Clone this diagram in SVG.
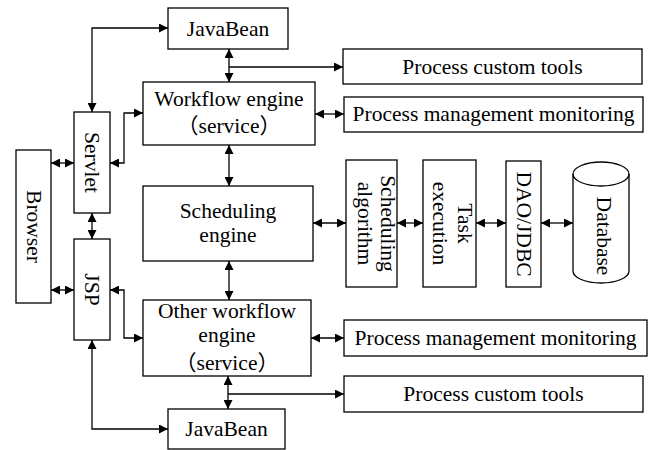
<svg xmlns="http://www.w3.org/2000/svg" width="651" height="450" viewBox="0 0 651 450">
<style>
.b{fill:#fff;stroke:#000;stroke-width:1.3}
.t{font-family:"Liberation Serif","Times New Roman",serif;font-size:21.5px;fill:#000;text-anchor:middle}
.c{fill:none;stroke:#000;stroke-width:1.3}
.d{marker-start:url(#ah);marker-end:url(#ah)}
.e{marker-end:url(#ah)}
.p{font-family:"Liberation Serif","Noto Sans CJK SC",serif}
</style>
<defs>
<marker id="ah" viewBox="0 0 10 10" refX="10" refY="5" markerWidth="10" markerHeight="9" markerUnits="userSpaceOnUse" orient="auto-start-reverse">
<path d="M0,0 L10,5 L0,10 z" fill="#000"/>
</marker>
</defs>
<rect width="651" height="450" fill="#fff"/>
<g id="connectors">
<path class="c d" d="M92,112 V28 H168"/>
<path class="c d" d="M229,49 V82"/>
<path class="c e" d="M229,67 H343"/>
<path class="c d" d="M110,163 H124 V113 H143"/>
<path class="c d" d="M315,114 H344"/>
<path class="c d" d="M51,163 H74"/>
<path class="c d" d="M92,213 V239"/>
<path class="c d" d="M51,290 H74"/>
<path class="c d" d="M229,145 V186"/>
<path class="c d" d="M229,261 V300"/>
<path class="c d" d="M313,223 H346"/>
<path class="c d" d="M397,223 H423"/>
<path class="c d" d="M476,223 H506"/>
<path class="c d" d="M541,223 H573"/>
<path class="c d" d="M110,290 H124 V338 H143"/>
<path class="c d" d="M311,338 H344"/>
<path class="c d" d="M228,376 V409"/>
<path class="c e" d="M228,394 H344"/>
<path class="c d" d="M92,340 V429 H168"/>
</g>
<g id="javabean-top"><rect class="b" x="168" y="8" width="120" height="41"/><text class="t" x="228" y="35.5">JavaBean</text></g>
<g id="workflow"><rect class="b" x="143" y="82" width="172" height="63"/><text class="t" x="229" y="106">Workflow engine</text><text class="t p" x="229" y="133">（service）</text></g>
<g id="pct-top"><rect class="b" x="343" y="49" width="299" height="35"/><text class="t" x="492.5" y="73.5">Process custom tools</text></g>
<g id="pmm-top"><rect class="b" x="344" y="97" width="299" height="35"/><text class="t" x="493.5" y="121">Process management monitoring</text></g>
<g id="servlet"><rect class="b" x="74" y="112" width="36" height="101"/><text class="t" transform="translate(85,162.5) rotate(90)">Servlet</text></g>
<g id="browser"><rect class="b" x="16" y="150" width="35" height="153"/><text class="t" transform="translate(26.5,226.5) rotate(90)">Browser</text></g>
<g id="jsp"><rect class="b" x="74" y="239" width="36" height="101"/><text class="t" transform="translate(85,289.5) rotate(90)">JSP</text></g>
<g id="scheduling-engine"><rect class="b" x="143" y="186" width="170" height="75"/><text class="t" x="228" y="218">Scheduling</text><text class="t" x="228" y="242">engine</text></g>
<g id="scheduling-algorithm"><rect class="b" x="346" y="160" width="51" height="127"/><text class="t" transform="translate(381,223.5) rotate(90)"><tspan x="0" y="0">Scheduling</tspan><tspan x="0" y="23.5">algorithm</tspan></text></g>
<g id="task-execution"><rect class="b" x="423" y="160" width="53" height="127"/><text class="t" transform="translate(458,223.5) rotate(90)"><tspan x="0" y="0">Task</tspan><tspan x="0" y="25">execution</tspan></text></g>
<g id="dao-jdbc"><rect class="b" x="506" y="161" width="35" height="126"/><text class="t" transform="translate(516.5,224) rotate(90)">DAO/JDBC</text></g>
<g id="database"><path class="b" d="M573,174 A28,12 0 0 1 629,174 V271 A28,12 0 0 1 573,271 Z"/><path class="c" d="M573,174 A28,12 0 0 0 629,174"/><text class="t" transform="translate(597,236) rotate(90)">Database</text></g>
<g id="other-workflow"><rect class="b" x="143" y="300" width="168" height="76"/><text class="t" x="227" y="318">Other workflow</text><text class="t" x="227" y="342">engine</text><text class="t p" x="227" y="370">（service）</text></g>
<g id="pmm-bottom"><rect class="b" x="344" y="320" width="303" height="36"/><text class="t" x="495.5" y="345">Process management monitoring</text></g>
<g id="pct-bottom"><rect class="b" x="344" y="376" width="299" height="36"/><text class="t" x="493.5" y="401">Process custom tools</text></g>
<g id="javabean-bottom"><rect class="b" x="168" y="409" width="117" height="40"/><text class="t" x="226.5" y="436">JavaBean</text></g>
</svg>
